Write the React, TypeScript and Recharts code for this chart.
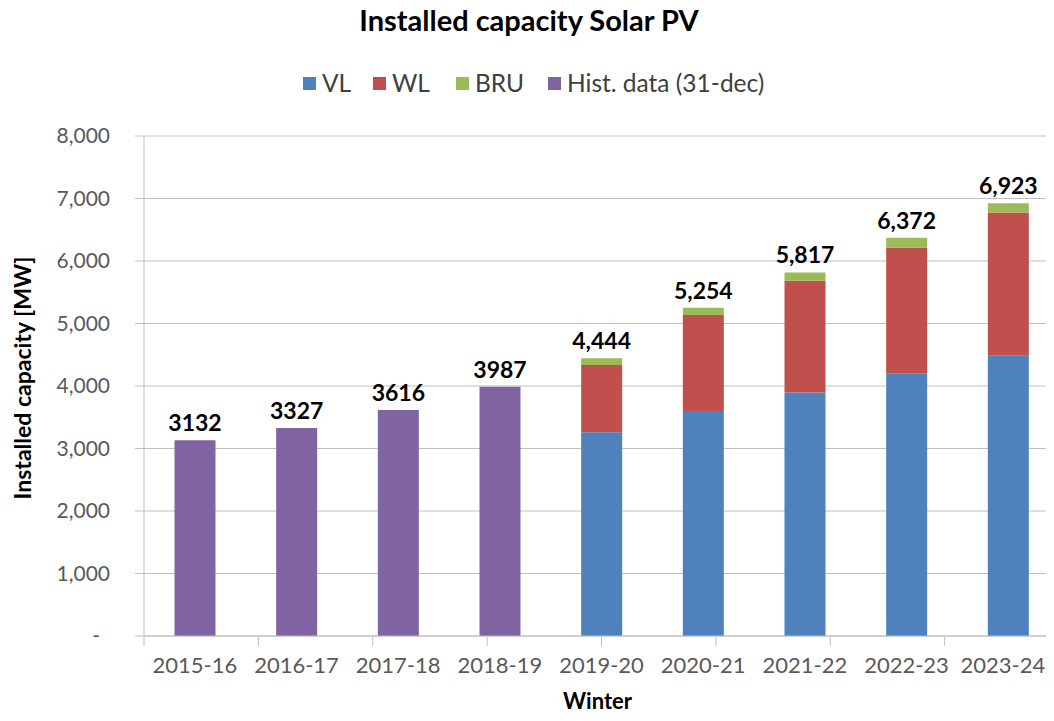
import { Bar, BarChart, CartesianGrid, LabelList, XAxis, YAxis } from "recharts";

// winter seasons on the category axis
const winters = [
  "2015-16",
  "2016-17",
  "2017-18",
  "2018-19",
  "2019-20",
  "2020-21",
  "2021-22",
  "2022-23",
  "2023-24",
];

// installed capacity [MW]
const hist = [3132, 3327, 3616, 3987, null, null, null, null, null];
const vl = [null, null, null, null, 3262, 3600, 3895, 4204, 4486];
const wl = [null, null, null, null, 1075, 1536, 1789, 2013, 2290];
const bru = [null, null, null, null, 107, 118, 133, 155, 147];

const yTicks = [0, 1000, 2000, 3000, 4000, 5000, 6000, 7000, 8000];
const edgeTicks = [0, 1, 2, 3, 4, 5, 6, 7, 8, 9];

const FONT = "Lato, 'Open Sans', sans-serif";
const GRID = "#BFBFBF";
const TICK_TEXT = "#595959";

const COLORS = {
  vl: "#4F81BD",
  wl: "#C0504D",
  bru: "#9BBB59",
  hist: "#8064A2",
};

const legendItems = [
  { label: "VL", color: COLORS.vl, left: 303 },
  { label: "WL", color: COLORS.wl, left: 373 },
  { label: "BRU", color: COLORS.bru, left: 456 },
  { label: "Hist. data (31-dec)", color: COLORS.hist, left: 548 },
];

const data = winters.map((winter, i) => {
  const row: Record<string, string | number> = { winter };
  const h = hist[i];
  if (h != null) row.hist = h;
  const a = vl[i];
  const b = wl[i];
  const c = bru[i];
  if (a != null && b != null && c != null) {
    row.vl = a;
    row.wl = b;
    row.bru = c;
    row.total = a + b + c;
  }
  return row;
});

function YTick({ x, y, payload }: any) {
  const v = payload.value as number;
  return (
    <text
      x={v === 0 ? x - 10 : x}
      y={y}
      dy="0.35em"
      textAnchor="end"
      fill={TICK_TEXT}
      fontSize={21}
      fontFamily={FONT}
    >
      {v === 0 ? "-" : v.toLocaleString("en-US")}
    </text>
  );
}

function XTick({ x, y, payload, index }: any) {
  // the last label sits against the right edge, as in the original
  const last = index === winters.length - 1;
  return (
    <text
      x={last ? x + 37 : x}
      y={y + 29}
      dy="0.35em"
      textAnchor={last ? "end" : "middle"}
      fill={TICK_TEXT}
      fontSize={22}
      fontFamily={FONT}
    >
      {payload.value}
    </text>
  );
}

// tick marks on the category boundaries
function EdgeTick({ x, y }: any) {
  return <line x1={x} y1={y} x2={x} y2={y + 9} stroke={GRID} />;
}

const labelStyle = {
  fill: "#000",
  fontSize: 23,
  fontWeight: 700,
  fontFamily: FONT,
};

export default function App() {
  return (
    <div
      style={{
        position: "relative",
        margin: -8,
        width: 1054,
        height: 721,
        overflow: "hidden",
        fontFamily: FONT,
      }}
    >
      <div
        style={{
          position: "absolute",
          top: 2,
          left: 0,
          width: 1058,
          textAlign: "center",
          fontSize: 29,
          lineHeight: "36px",
          fontWeight: 700,
          color: "#000",
          whiteSpace: "nowrap",
        }}
      >
        Installed capacity Solar PV
      </div>
      {legendItems.map((item) => (
        <div
          key={item.label}
          style={{
            position: "absolute",
            top: 67,
            left: item.left,
            height: 32,
            display: "flex",
            alignItems: "center",
            fontSize: 24.5,
            lineHeight: "32px",
            color: "#404040",
            whiteSpace: "nowrap",
          }}
        >
          <span
            style={{
              display: "inline-block",
              width: 13,
              height: 13,
              background: item.color,
              marginRight: 6,
            }}
          />
          <span>{item.label}</span>
        </div>
      ))}
      <BarChart
        width={1060}
        height={721}
        data={data}
        margin={{ top: 136, right: 1, bottom: 83, left: 0 }}
        barCategoryGap="30%"
      >
        <CartesianGrid vertical={false} stroke={GRID} />
        <XAxis
          xAxisId="edges"
          type="number"
          domain={[0, 9]}
          ticks={edgeTicks}
          interval={0}
          tick={<EdgeTick />}
          tickSize={0}
          tickMargin={0}
          tickLine={false}
          axisLine={false}
          height={1}
        />
        <XAxis
          dataKey="winter"
          height={1}
          tickSize={0}
          tickMargin={0}
          tickLine={false}
          axisLine={{ stroke: GRID }}
          tick={<XTick />}
          interval={0}
          label={{
            content: ({ viewBox }: any) => (
              <text
                x={viewBox.x + viewBox.width / 2 - 4}
                y={viewBox.y + 65}
                dy="0.35em"
                textAnchor="middle"
                fill="#000"
                fontSize={22}
                fontWeight={700}
                fontFamily={FONT}
              >
                Winter
              </text>
            ),
          }}
        />
        <YAxis
          width={144}
          domain={[0, 8000]}
          ticks={yTicks}
          tickSize={9}
          tickMargin={25}
          tickLine={{ stroke: GRID }}
          axisLine={{ stroke: GRID }}
          tick={<YTick />}
          label={{
            content: ({ viewBox }: any) => {
              const cx = viewBox.x + 23;
              const cy = viewBox.y + viewBox.height / 2 - 8;
              return (
                <text
                  x={cx}
                  y={cy}
                  dy="0.35em"
                  textAnchor="middle"
                  transform={`rotate(-90 ${cx} ${cy})`}
                  fill="#000"
                  fontSize={23}
                  fontWeight={700}
                  fontFamily={FONT}
                >
                  Installed capacity [MW]
                </text>
              );
            },
          }}
        />
        <Bar dataKey="hist" stackId="a" fill={COLORS.hist} isAnimationActive={false}>
          <LabelList dataKey="hist" position="top" offset={9} style={labelStyle} />
        </Bar>
        <Bar dataKey="vl" stackId="a" fill={COLORS.vl} isAnimationActive={false} />
        <Bar dataKey="wl" stackId="a" fill={COLORS.wl} isAnimationActive={false} />
        <Bar dataKey="bru" stackId="a" fill={COLORS.bru} isAnimationActive={false}>
          <LabelList
            dataKey="total"
            position="top"
            offset={9}
            style={labelStyle}
            formatter={(v: any) => (v == null ? "" : Number(v).toLocaleString("en-US"))}
          />
        </Bar>
      </BarChart>
    </div>
  );
}
